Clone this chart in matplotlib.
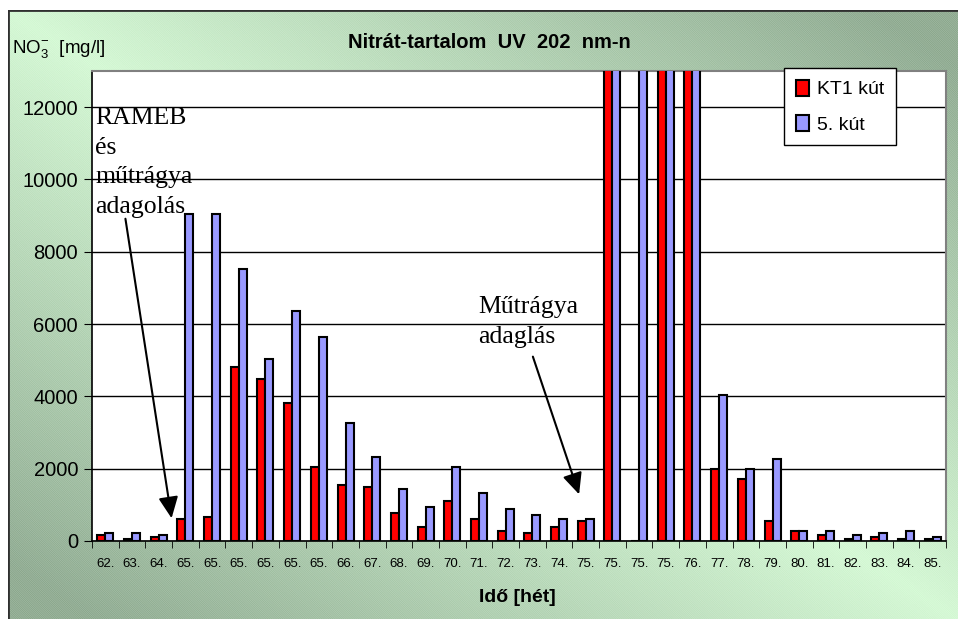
import numpy as np
import matplotlib
matplotlib.use("Agg")
import matplotlib.pyplot as plt
from matplotlib.patches import Rectangle
from matplotlib.text import Annotation

plt.rcParams['font.family'] = ['Liberation Sans', 'DejaVu Sans']
plt.rcParams['mathtext.fontset'] = 'custom'
plt.rcParams['mathtext.rm'] = 'Liberation Sans'
plt.rcParams['hatch.linewidth'] = 0.6

# hetek (x tengely)
hetek = ["62.", "63.", "64.", "65.", "65.", "65.", "65.", "65.", "65.", "66.",
         "67.", "68.", "69.", "70.", "71.", "72.", "73.", "74.", "75.", "75.",
         "75.", "75.", "76.", "77.", "78.", "79.", "80.", "81.", "82.", "83.",
         "84.", "85."]

# nitrát értékek mg/l -- a 75-76. heti oszlopok kilógnak a skálából (20000 = levágva)
kt1_kut = [165, 45, 110, 600, 665, 4800, 4470, 3810, 2050, 1550,
           1495, 775, 385, 1115, 610, 275, 220, 385, 555, 20000,
           0, 20000, 20000, 2000, 1715, 555, 275, 155, 55, 110,
           55, 55]
kut5 = [210, 210, 165, 9050, 9050, 7520, 5030, 6350, 5630, 3265,
        2325, 1450, 950, 2050, 1330, 895, 730, 610, 610, 20000,
        20000, 20000, 20000, 4040, 1990, 2270, 275, 265, 165, 220,
        265, 110]

W, H = 958, 619
fig = plt.figure(figsize=(W / 100, H / 100), dpi=100)
fig.patch.set_facecolor('white')

# zöld színátmenetes háttér
bg = fig.add_axes([8 / W, 0, 950 / W, 609 / H])
u, v = np.meshgrid(np.linspace(0, 1, 300), np.linspace(0, 1, 200))
d = np.clip(np.abs(u - v) * 1.1, 0, 1)
light = np.array([0.80, 0.97, 0.80])
dark = np.array([0.48, 0.61, 0.49])
img = light[None, None, :] * (1 - d[..., None]) + dark[None, None, :] * d[..., None]
bg.imshow(img, aspect='auto', extent=[0, 1, 0, 1], origin='upper')
bg.add_patch(Rectangle((0, 0), 1, 1, fill=False, hatch='\\' * 18,
                       edgecolor=(1, 1, 1, 0.3), linewidth=0))
bg.plot([0, 0, 1], [0, 1, 1], color='#303030', lw=2)
bg.set_xlim(0, 1)
bg.set_ylim(0, 1)
bg.axis('off')

ax = fig.add_axes([92 / W, 1 - 541 / H, (946 - 92) / W, (541 - 71) / H])
ax.set_facecolor('white')

x = np.arange(len(hetek))
w = 0.3
ax.bar(x - w / 2, kt1_kut, w, color='#ff0000', edgecolor='black', linewidth=1.5,
       label='KT1 kút', zorder=3)
ax.bar(x + w / 2, kut5, w, color='#9999ff', edgecolor='black', linewidth=1.5,
       label='5. kút', zorder=3)

ax.set_xlim(-0.5, len(hetek) - 0.5)
ax.set_ylim(0, 13000)
ax.set_yticks(range(0, 13000, 2000))
ax.yaxis.grid(True, color='black', linewidth=1)
ax.set_axisbelow(True)
ax.tick_params(axis='y', labelsize=14.5, length=6, direction='out', pad=4)
ax.set_xticks(x)
ax.set_xticklabels(hetek, fontsize=9.5)
ax.set_xticks(np.arange(-0.5, len(hetek), 1), minor=True)
ax.tick_params(axis='x', which='major', length=0, pad=12)
ax.tick_params(axis='x', which='minor', length=5, direction='out')
for s in ['top', 'right']:
    ax.spines[s].set_color('#808080')
    ax.spines[s].set_linewidth(1.5)
for s in ['left', 'bottom']:
    ax.spines[s].set_color('black')
    ax.spines[s].set_linewidth(1.2)

fig.text(489 / W, 1 - 43 / H, "Nitrát-tartalom  UV  202  nm-n", ha='center', va='center',
         fontsize=14.5, fontweight='bold')
fig.text(12 / W, 1 - 50 / H, r"NO$_3^{\mathregular{-}}$  [mg/l]", ha='left', va='center',
         fontsize=13.5)
fig.text(517 / W, 1 - 598 / H, "Idő [hét]", ha='center', va='center',
         fontsize=14, fontweight='bold')

ax.legend(loc='upper left', bbox_to_anchor=(784 / W, 1 - 68 / H),
          bbox_transform=fig.transFigure, fontsize=14, frameon=True, fancybox=False,
          edgecolor='black', framealpha=1, borderpad=0.6, handlelength=0.7,
          handleheight=0.9, handletextpad=0.4, labelspacing=0.85, borderaxespad=0)

serif = ['Liberation Serif', 'DejaVu Serif']
fig.text(95 / W, 1 - 107 / H, "RAMEB\nés\nműtrágya\nadagolás", ha='left', va='top',
         fontsize=18.5, family=serif, linespacing=1.45)
fig.text(478 / W, 1 - 296 / H, "Műtrágya\nadaglás", ha='left', va='top',
         fontsize=18.5, family=serif, linespacing=1.45)

arrow = dict(arrowstyle='-|>,head_length=1.3,head_width=0.6', color='black', lw=1.5)
fig.add_artist(Annotation(
    "", xy=(172, H - 521), xytext=(125, H - 216),
    xycoords='figure pixels', textcoords='figure pixels', arrowprops=arrow))
fig.add_artist(Annotation(
    "", xy=(580, H - 497), xytext=(532, H - 354),
    xycoords='figure pixels', textcoords='figure pixels', arrowprops=arrow))

fig.savefig("out.png", dpi=100)
